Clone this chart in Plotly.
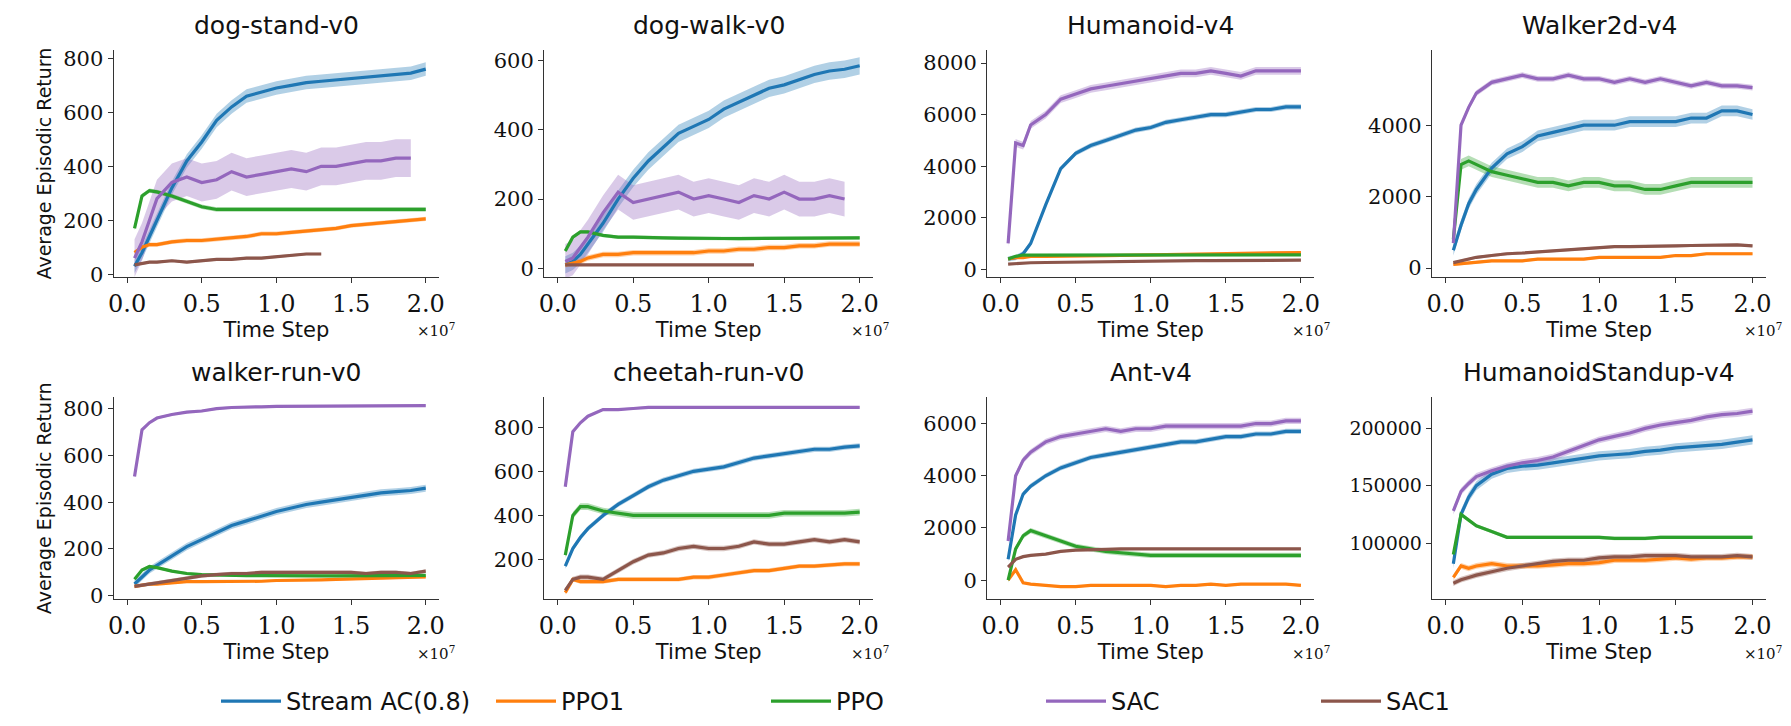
import plotly.graph_objects as go

# shared x grid (units of 1e7 time steps)
steps = [0.05, 0.1, 0.15, 0.2, 0.3, 0.4, 0.5, 0.6, 0.7, 0.8, 0.9, 1.0,
         1.1, 1.2, 1.3, 1.4, 1.5, 1.6, 1.7, 1.8, 1.9, 2.0]

series_names = ["Stream AC(0.8)", "PPO1", "PPO", "SAC", "SAC1"]
colors = ["#1f77b4", "#ff7f0e", "#2ca02c", "#9467bd", "#8c564b"]
N = None

# dog-stand-v0
ds_stream = [30, 80, 140, 200, 320, 420, 490, 570, 620, 660, 675, 690, 700, 710, 715, 720, 725, 730, 735, 740, 745, 760]
ds_ppo1 = [80, 100, 110, 110, 120, 125, 125, 130, 135, 140, 150, 150, 155, 160, 165, 170, 180, 185, 190, 195, 200, 205]
ds_ppo = [170, 290, 310, 305, 290, 270, 250, 240, 240, 238, 238, 238, 238, 238, 238, 238, 238, 238, 238, 238, 240, 240]
ds_sac = [60, 120, 200, 280, 340, 360, 340, 350, 380, 360, 370, 380, 390, 380, 400, 400, 410, 420, 420, 430, 430, N]
ds_sac1 = [35, 40, 45, 45, 50, 45, 50, 55, 55, 60, 60, 65, 70, 75, 75, N, N, N, N, N, N, N]
ds_band = [25, 8, 8, 70, 5]

# dog-walk-v0
dw_stream = [10, 20, 40, 70, 130, 200, 260, 310, 350, 390, 410, 430, 460, 480, 500, 520, 530, 545, 560, 570, 575, 585]
dw_ppo1 = [10, 15, 20, 30, 40, 40, 45, 45, 45, 45, 45, 50, 50, 55, 55, 60, 60, 65, 65, 70, 70, 70]
dw_ppo = [50, 90, 105, 105, 95, 90, 90, 88, 88, 87, 86, 86, 86, 86, 86, 86, 86, 86, 86, 87, 87, 88]
dw_sac = [20, 30, 60, 90, 160, 220, 190, 200, 210, 220, 200, 210, 200, 190, 210, 200, 220, 200, 200, 210, 200, N]
dw_sac1 = [10, 10, 10, 10, 10, 10, 10, 10, 10, 10, 10, 10, 10, 10, 10, N, N, N, N, N, N, N]
dw_band = [25, 8, 5, 50, 3]

# Humanoid-v4
hu_stream = [400, 450, 600, 1000, 2500, 3900, 4500, 4800, 5000, 5200, 5400, 5500, 5700, 5800, 5900, 6000, 6000, 6100, 6200, 6200, 6300, 6300]
hu_ppo1 = [400, 450, 450, 500, 500, 500, 520, 520, 530, 540, 550, 560, 570, 580, 590, 600, 610, 620, 630, 640, 650, 650]
hu_ppo = [400, 500, 550, 550, 550, 550, 550, 550, 550, 550, 550, 550, 550, 550, 550, 560, 560, 560, 560, 560, 560, 560]
hu_sac = [1000, 4900, 4800, 5600, 6000, 6600, 6800, 7000, 7100, 7200, 7300, 7400, 7500, 7600, 7600, 7700, 7600, 7500, 7700, 7700, 7700, 7700]
hu_sac1 = [200, 220, 240, 250, 260, 270, 280, 290, 300, 300, 310, 310, 320, 320, 330, 330, 330, 340, 340, 340, 350, 350]
hu_band = [100, 40, 40, 150, 30]

# Walker2d-v4
wa_stream = [500, 1200, 1800, 2200, 2800, 3200, 3400, 3700, 3800, 3900, 4000, 4000, 4000, 4100, 4100, 4100, 4100, 4200, 4200, 4400, 4400, 4300]
wa_ppo1 = [100, 120, 150, 150, 200, 200, 200, 250, 250, 250, 250, 300, 300, 300, 300, 300, 350, 350, 400, 400, 400, 400]
wa_ppo = [800, 2900, 3000, 2900, 2700, 2600, 2500, 2400, 2400, 2300, 2400, 2400, 2300, 2300, 2200, 2200, 2300, 2400, 2400, 2400, 2400, 2400]
wa_sac = [700, 4000, 4500, 4900, 5200, 5300, 5400, 5300, 5300, 5400, 5300, 5300, 5200, 5300, 5200, 5300, 5200, 5100, 5200, 5100, 5100, 5050]
wa_sac1 = [150, 200, 250, 300, 350, 400, 420, 450, 480, 500, 550, 580, 600, 600, 600, 620, 620, 630, 640, 650, 650, 620]
wa_band = [150, 40, 150, 80, 40]

# walker-run-v0
wr_stream = [50, 80, 110, 130, 170, 210, 240, 270, 300, 320, 340, 360, 375, 390, 400, 410, 420, 430, 440, 445, 450, 460]
wr_ppo1 = [40, 45, 50, 50, 55, 60, 60, 60, 60, 62, 62, 65, 65, 68, 68, 70, 72, 72, 75, 75, 78, 80]
wr_ppo = [70, 110, 125, 120, 105, 95, 90, 88, 87, 86, 86, 85, 85, 85, 85, 85, 85, 85, 85, 86, 86, 87]
wr_sac = [510, 710, 740, 760, 775, 785, 790, 800, 805, 808, 808, 810, 810, 810, 812, 812, 812, 813, 813, 813, 813, 813]
wr_sac1 = [40, 45, 50, 55, 65, 75, 85, 90, 95, 95, 100, 100, 100, 100, 100, 100, 100, 95, 100, 100, 95, 105]
wr_band = [15, 5, 6, 5, 8]

# cheetah-run-v0
ch_stream = [170, 250, 300, 340, 400, 450, 490, 530, 560, 580, 600, 610, 620, 640, 660, 670, 680, 690, 700, 700, 710, 715]
ch_ppo1 = [50, 110, 100, 100, 100, 110, 110, 110, 110, 110, 120, 120, 130, 140, 150, 150, 160, 170, 170, 175, 180, 180]
ch_ppo = [220, 400, 440, 440, 420, 410, 400, 400, 400, 400, 400, 400, 400, 400, 400, 400, 410, 410, 410, 410, 410, 415]
ch_sac = [530, 780, 820, 850, 880, 880, 885, 890, 890, 890, 890, 890, 890, 890, 890, 890, 890, 890, 890, 890, 890, 890]
ch_sac1 = [60, 110, 120, 120, 110, 150, 190, 220, 230, 250, 260, 250, 250, 260, 280, 270, 270, 280, 290, 280, 290, 280]
ch_band = [12, 10, 15, 5, 12]

# Ant-v4
an_stream = [800, 2500, 3300, 3600, 4000, 4300, 4500, 4700, 4800, 4900, 5000, 5100, 5200, 5300, 5300, 5400, 5500, 5500, 5600, 5600, 5700, 5700]
an_ppo1 = [0, 400, -100, -150, -200, -250, -250, -200, -200, -200, -200, -200, -250, -200, -200, -150, -200, -150, -150, -150, -150, -200]
an_ppo = [0, 1200, 1700, 1900, 1700, 1500, 1300, 1200, 1100, 1050, 1000, 950, 950, 950, 950, 950, 950, 950, 950, 950, 950, 950]
an_sac = [1500, 4000, 4600, 4900, 5300, 5500, 5600, 5700, 5800, 5700, 5800, 5800, 5900, 5900, 5900, 5900, 5900, 5900, 6000, 6000, 6100, 6100]
an_sac1 = [500, 800, 900, 950, 1000, 1100, 1150, 1150, 1180, 1200, 1200, 1200, 1200, 1200, 1200, 1200, 1200, 1200, 1200, 1200, 1200, 1200]
an_band = [100, 40, 100, 120, 40]

# HumanoidStandup-v4
hs_stream = [82000, 125000, 140000, 150000, 160000, 165000, 167000, 168000, 170000, 172000, 174000, 176000, 177000, 178000, 180000, 181000, 183000, 184000, 185000, 186000, 188000, 190000]
hs_ppo1 = [70000, 80000, 78000, 80000, 82000, 80000, 80000, 80000, 81000, 82000, 82000, 83000, 85000, 85000, 85000, 86000, 87000, 86000, 87000, 87000, 88000, 88000]
hs_ppo = [90000, 125000, 120000, 115000, 110000, 105000, 105000, 105000, 105000, 105000, 105000, 105000, 104000, 104000, 104000, 105000, 105000, 105000, 105000, 105000, 105000, 105000]
hs_sac = [128000, 145000, 152000, 158000, 163000, 167000, 170000, 172000, 175000, 180000, 185000, 190000, 193000, 196000, 200000, 203000, 205000, 207000, 210000, 212000, 213000, 215000]
hs_sac1 = [65000, 68000, 70000, 72000, 75000, 78000, 80000, 82000, 84000, 85000, 85000, 87000, 88000, 88000, 89000, 89000, 89000, 88000, 88000, 88000, 89000, 88000]
hs_band = [4000, 2500, 1500, 3000, 2500]

panels = [
    ("dog-stand-v0", [ds_stream, ds_ppo1, ds_ppo, ds_sac, ds_sac1], ds_band, [-10, 830], [0, 200, 400, 600, 800]),
    ("dog-walk-v0", [dw_stream, dw_ppo1, dw_ppo, dw_sac, dw_sac1], dw_band, [-25, 630], [0, 200, 400, 600]),
    ("Humanoid-v4", [hu_stream, hu_ppo1, hu_ppo, hu_sac, hu_sac1], hu_band, [-300, 8500], [0, 2000, 4000, 6000, 8000]),
    ("Walker2d-v4", [wa_stream, wa_ppo1, wa_ppo, wa_sac, wa_sac1], wa_band, [-250, 6100], [0, 2000, 4000]),
    ("walker-run-v0", [wr_stream, wr_ppo1, wr_ppo, wr_sac, wr_sac1], wr_band, [-15, 848], [0, 200, 400, 600, 800]),
    ("cheetah-run-v0", [ch_stream, ch_ppo1, ch_ppo, ch_sac, ch_sac1], ch_band, [20, 935], [200, 400, 600, 800]),
    ("Ant-v4", [an_stream, an_ppo1, an_ppo, an_sac, an_sac1], an_band, [-730, 7000], [0, 2000, 4000, 6000]),
    ("HumanoidStandup-v4", [hs_stream, hs_ppo1, hs_ppo, hs_sac, hs_sac1], hs_band, [51000, 227000], [100000, 150000, 200000]),
]

x_doms = [[0.056, 0.239], [0.298, 0.483], [0.547, 0.731], [0.797, 0.985]]
y_doms = [[0.627, 0.945], [0.175, 0.458]]

SERIF = "DejaVu Serif"
SANS = "DejaVu Sans"


def rgba(hex_color, a):
    h = hex_color.lstrip("#")
    return f"rgba({int(h[0:2], 16)},{int(h[2:4], 16)},{int(h[4:6], 16)},{a})"


fig = go.Figure()
annotations = []
layout = {}

for i, (title, ys, band, yrange, yticks) in enumerate(panels):
    n = i + 1
    sfx = "" if n == 1 else str(n)
    row, col = divmod(i, 4)
    xa, ya = "x" + sfx, "y" + sfx
    for k in range(5):
        xs = [x for x, v in zip(steps, ys[k]) if v is not None]
        vs = [v for v in ys[k] if v is not None]
        up = [v + band[k] for v in vs]
        lo = [v - band[k] for v in vs]
        fig.add_trace(go.Scatter(x=xs, y=up, mode="lines", line=dict(width=0),
                                 xaxis=xa, yaxis=ya, showlegend=False, hoverinfo="skip"))
        fig.add_trace(go.Scatter(x=xs, y=lo, mode="lines", line=dict(width=0), fill="tonexty",
                                 fillcolor=rgba(colors[k], 0.35), xaxis=xa, yaxis=ya,
                                 showlegend=False, hoverinfo="skip"))
    for k in range(5):
        xs = [x for x, v in zip(steps, ys[k]) if v is not None]
        vs = [v for v in ys[k] if v is not None]
        fig.add_trace(go.Scatter(x=xs, y=vs, mode="lines", name=series_names[k],
                                 line=dict(color=colors[k], width=3.2),
                                 xaxis=xa, yaxis=ya, showlegend=(i == 0)))

    layout["xaxis" + sfx] = dict(
        domain=x_doms[col], anchor=ya, range=[-0.09, 2.09],
        tickvals=[0, 0.5, 1.0, 1.5, 2.0], ticktext=["0.0", "0.5", "1.0", "1.5", "2.0"],
        showline=True, linecolor="#333", linewidth=1.2, ticks="outside", ticklen=5,
        tickcolor="#333", showgrid=False, zeroline=False,
        tickfont=dict(family=SERIF, size=24, color="#111"),
        title=dict(text="Time Step", font=dict(family=SANS, size=21, color="#111"), standoff=2),
    )
    layout["yaxis" + sfx] = dict(
        domain=y_doms[row], anchor=xa, range=yrange, tickvals=yticks,
        ticktext=[str(t) for t in yticks],
        showline=True, linecolor="#333", linewidth=1.2, ticks="outside", ticklen=5,
        tickcolor="#333", showgrid=False, zeroline=False,
        tickfont=dict(family=SERIF, size=21 if n != 8 else 19, color="#111"),
    )
    if col == 0:
        layout["yaxis" + sfx]["title"] = dict(text="Average Episodic Return",
                                            font=dict(family=SANS, size=19, color="#111"), standoff=6)
    xc = (x_doms[col][0] + x_doms[col][1]) / 2
    annotations.append(dict(text=title, x=xc, y=y_doms[row][1] + 0.012, xref="paper", yref="paper",
                            xanchor="center", yanchor="bottom", showarrow=False,
                            font=dict(family=SANS, size=25, color="#111")))
    annotations.append(dict(text="×10<sup>7</sup>", x=x_doms[col][1] + 0.01, y=y_doms[row][0] - 0.058,
                            xref="paper", yref="paper", xanchor="right", yanchor="top",
                            showarrow=False, font=dict(family=SERIF, size=15, color="#111")))

fig.update_layout(
    **layout,
    annotations=annotations,
    width=1791, height=726,
    plot_bgcolor="white", paper_bgcolor="white",
    margin=dict(l=0, r=0, t=0, b=0),
    legend=dict(orientation="h", x=0.5, xanchor="center", y=0.0, yanchor="bottom",
                traceorder="normal",
                font=dict(family=SANS, size=24, color="#111"), itemwidth=60,
                tracegroupgap=0, entrywidth=200),
)

fig.write_html("out.html")
